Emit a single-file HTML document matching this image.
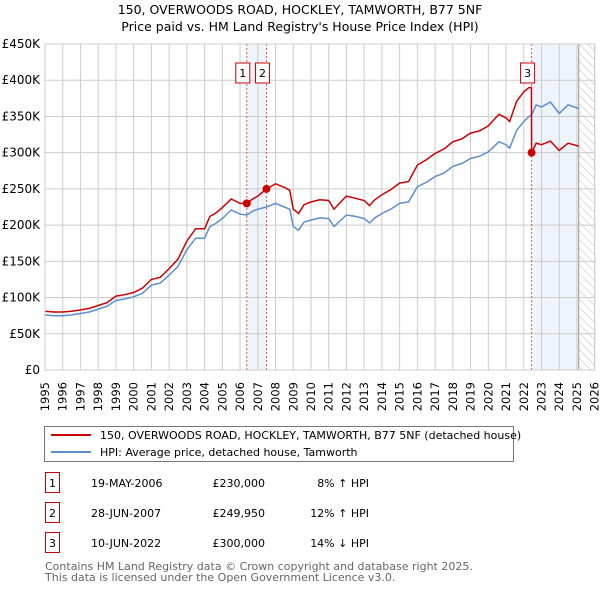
<!DOCTYPE html>
<html><head><meta charset="utf-8"><style>
body{margin:0;background:#fff;font-family:"Liberation Sans","DejaVu Sans",sans-serif;}
svg text{font-family:"DejaVu Sans","Liberation Sans",sans-serif;}
</style></head><body>
<svg id="chart" width="600" height="590" xmlns="http://www.w3.org/2000/svg">
<defs><pattern id="hatch" width="6" height="6" patternUnits="userSpaceOnUse" patternTransform="rotate(-45)"><line x1="0" y1="0" x2="0" y2="6" stroke="#bbb" stroke-width="1"/></pattern></defs>
<text x="300" y="14" text-anchor="middle" font-size="12.5">150, OVERWOODS ROAD, HOCKLEY, TAMWORTH, B77 5NF</text>
<text x="300" y="31" text-anchor="middle" font-size="12.5">Price paid vs. HM Land Registry's House Price Index (HPI)</text>
<g id="plot"></g>
<g>
<rect x="44.5" y="426.5" width="469" height="35" fill="#fff" stroke="#777"/>
<line x1="51" y1="435" x2="91" y2="435" stroke="#cc0000" stroke-width="2"/>
<text x="100" y="439" font-size="11">150, OVERWOODS ROAD, HOCKLEY, TAMWORTH, B77 5NF (detached house)</text>
<line x1="51" y1="452" x2="91" y2="452" stroke="#5b8fd0" stroke-width="2"/>
<text x="100" y="456" font-size="11">HPI: Average price, detached house, Tamworth</text>
</g>
<g id="table" font-size="11"></g>
<text x="45" y="570" font-size="11" fill="#666">Contains HM Land Registry data © Crown copyright and database right 2025.</text>
<text x="45" y="581" font-size="11" fill="#666">This data is licensed under the Open Government Licence v3.0.</text>
</svg>
<script>
const years=[1995,1995.5,1996,1996.5,1997,1997.5,1998,1998.5,1999,1999.5,2000,2000.5,2001,2001.5,2002,2002.5,2003,2003.5,2004,2004.3,2004.6,2005,2005.5,2006,2006.38,2006.7,2007,2007.49,2008,2008.5,2008.8,2009,2009.3,2009.6,2010,2010.5,2011,2011.3,2011.6,2012,2012.5,2013,2013.3,2013.6,2014,2014.5,2015,2015.5,2016,2016.5,2017,2017.5,2018,2018.5,2019,2019.5,2020,2020.6,2021,2021.2,2021.6,2022,2022.3,2022.43,2022.44,2022.7,2023,2023.5,2024,2024.5,2025.1];
const hpiValues=[76,75,75,76,78,80,84,88,96,98,101,106,117,120,131,143,166,182,182,198,202,209,221,215,214,219,222,225,230,225,222,198,193,204,207,210,209,198,205,214,212,209,203,210,216,222,230,232,253,259,267,272,281,285,292,295,301,315,311,306,331,343,350,352,352,366,363,370,354,366,361];
const priceValues=[81,80,80,81,83,85,89,93,102,104,107,113,125,128,140,153,178,195,195,212,216,224,236,230,230,236,240,250,257,252,248,222,216,228,232,235,234,222,230,240,237,234,227,235,242,249,258,260,283,290,299,305,315,319,327,330,337,353,348,343,371,384,390,390,300,313,311,316,303,313,309];
const saleDates=[2006.38,2007.49,2022.44];
const saleLabels=["1","2","3"];
const salePrices=[230,249.95,300];
const saleDateText=["19-MAY-2006","28-JUN-2007","10-JUN-2022"];
const salePriceText=["£230,000","£249,950","£300,000"];
const saleHpiText=["8% ↑ HPI","12% ↑ HPI","14% ↓ HPI"];
const yTicks=[0,50,100,150,200,250,300,350,400,450];
const yTickLabels=["£0","£50K","£100K","£150K","£200K","£250K","£300K","£350K","£400K","£450K"];
const xTicks=[];for(let y=1995;y<=2026;y++)xTicks.push(y);
const dataEnd=2025.1;

const NS="http://www.w3.org/2000/svg";
const X0=45,X1=594.7,Y0=370,Y1=44;
const xs=v=>X0+(v-1995)/(2026-1995)*(X1-X0);
const ys=v=>Y0-v/450*(Y0-Y1);
const plot=document.getElementById('plot');
function mk(tag,attrs,parent){const e=document.createElementNS(NS,tag);for(const k in attrs)e.setAttribute(k,attrs[k]);(parent||plot).appendChild(e);return e;}
// shading
let r=mk('rect',{x:xs(saleDates[0]),y:Y1,width:xs(saleDates[1])-xs(saleDates[0]),height:Y0-Y1,fill:'#eef3fc'});


r=mk('rect',{x:xs(saleDates[2]),y:Y1,width:xs(dataEnd)-xs(saleDates[2]),height:Y0-Y1,fill:'#eef3fc'});


r=mk('rect',{x:xs(dataEnd),y:Y1,width:X1-xs(dataEnd),height:Y0-Y1,fill:'url(#hatch)'});


// grid
yTicks.forEach((t,i)=>{
 const l=mk('line',{x1:X0,x2:X1,y1:ys(t),y2:ys(t),stroke:'#ccc'});
 
 
 const tx=mk('text',{x:40,y:ys(t)+4,'text-anchor':'end','font-size':'12'});
 tx.textContent=yTickLabels[i];
 
 
});
xTicks.forEach(t=>{
 const l=mk('line',{x1:xs(t),x2:xs(t),y1:Y1,y2:Y0,stroke:'#ccc'});
 
 
 const tx=mk('text',{x:0,y:0,'text-anchor':'end','font-size':'11.5',transform:`translate(${xs(t)+4},382) rotate(-90)`});
 tx.textContent=t;
 
 
});
const dl=mk('line',{x1:xs(dataEnd),x2:xs(dataEnd),y1:Y1,y2:Y0,stroke:'#999'});


// sale vlines
saleDates.forEach(d=>{
 const l=mk('line',{x1:xs(d),x2:xs(d),y1:Y1,y2:Y0,stroke:'#ee5555','stroke-dasharray':'2,2'});
 
 
});
// series
const pts=v=>years.map((y,i)=>xs(y).toFixed(1)+','+ys(v[i]).toFixed(1)).join(' ');
const hp=mk('polyline',{points:pts(hpiValues),fill:'none',stroke:'#5b8fd0','stroke-width':1.5});


const pp=mk('polyline',{points:pts(priceValues),fill:'none',stroke:'#cc0000','stroke-width':1.5});


saleDates.forEach((d,i)=>{
 const c=mk('circle',{cx:xs(d),cy:ys(salePrices[i]),r:4,fill:'#cc0000'});
 
 
 const b=mk('rect',{x:xs(d)-11,y:63,width:14,height:20,fill:'#fff',stroke:'#cc0000'});
 
 
 const t=mk('text',{x:xs(d)-4,y:77,'text-anchor':'middle','font-size':'11'});
 t.textContent=saleLabels[i];
 
 
});
const ax=mk('rect',{x:X0,y:Y1,width:X1-X0,height:Y0-Y1,fill:'none',stroke:'#ccc'});


// table
const tb=document.getElementById('table');
const rowY=[483,513,543];
saleLabels.forEach((s,i)=>{
 const y=rowY[i];
 const b=mk('rect',{x:45.5,y:y-10.5,width:14,height:20,fill:'#fff',stroke:'#cc0000'},tb);
 
 
 const cells=[[52.5,s,'middle'],[91,saleDateText[i],'start'],[265,salePriceText[i],'end'],[369,saleHpiText[i],'end']];
 cells.forEach(c=>{
  const t=mk('text',{x:c[0],y:y+4,'text-anchor':c[2]},tb);
  t.textContent=c[1];
  
  
 });
});
</script>
</body></html>
